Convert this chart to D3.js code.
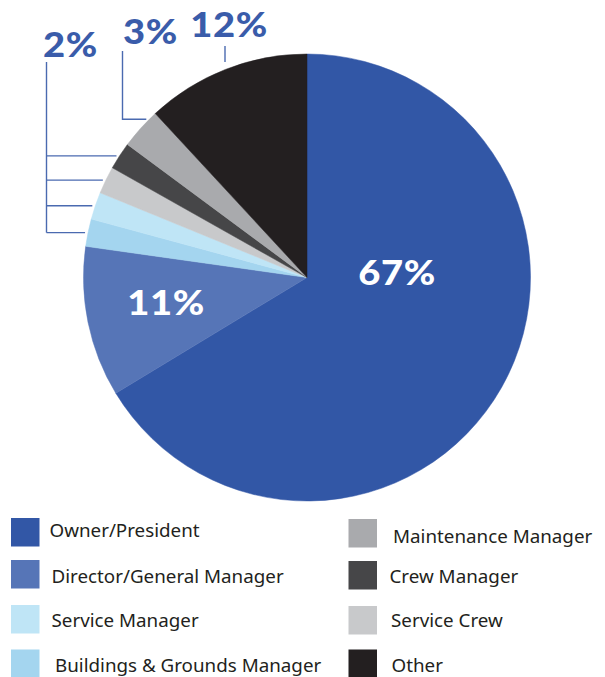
<!DOCTYPE html>
<html>
<head>
<meta charset="utf-8">
<script src="https://cdn.jsdelivr.net/npm/d3@7"></script>
<style>
  html, body { margin: 0; padding: 0; background: #ffffff; }
  svg { display: block; }
</style>
</head>
<body>
<svg id="chart" width="605" height="677"></svg>
<script>
// ---- data ----
const categories = ["Owner/President", "Director/General Manager", "Buildings & Grounds Manager",
  "Service Manager", "Service Crew", "Crew Manager", "Maintenance Manager", "Other"];
const values = [67, 11, 2, 2, 2, 2, 3, 12];
const percentLabels = ["67%", "11%", "2%", "3%", "12%"];
const colors = ["#3257a6", "#5675b7", "#a4d5ef", "#bfe5f6", "#c8c9cb", "#464648", "#a9aaad", "#231f20"];
const legendLeft = ["Owner/President", "Director/General Manager", "Service Manager", "Buildings & Grounds Manager"];
const legendRight = ["Maintenance Manager", "Crew Manager", "Service Crew", "Other"];

// ---- layout ----
const cx = 307, cy = 277.5, R = 223.5;
const labelBlue = "#3a5caa";
const lineBlue = "#4a6ab0";

const svg = d3.select("#chart");
const g = svg.append("g").attr("transform", `translate(${cx},${cy})`);

const pie = d3.pie().sort(null).value(d => d.value);
const data = pie(categories.map((c, i) => ({ name: c, value: values[i], color: colors[i] })));
const arc = d3.arc().innerRadius(0).outerRadius(R);

g.selectAll("path.slice").data(data).join("path")
  .attr("class", "slice")
  .attr("d", arc)
  .attr("fill", d => d.data.color)
  .attr("stroke", d => d.data.color)
  .attr("stroke-width", 0.5);

function edgePoint(angle, rad) { return [cx + rad * Math.sin(angle), cy - rad * Math.cos(angle)]; }

const pctFont = "Lato, 'Open Sans', sans-serif";
function pctLabel(text, x, y, fill) {
  svg.append("text")
    .attr("transform", `translate(${x},${y}) scale(1.09,1)`)
    .attr("text-anchor", "middle")
    .attr("font-family", pctFont).attr("font-weight", 900)
    .attr("font-size", 35).attr("letter-spacing", 0.6)
    .attr("fill", fill).text(text);
}
// inner labels
pctLabel(percentLabels[0], 397, 285, "#ffffff");
pctLabel(percentLabels[1], 166, 315, "#ffffff");

// outer callouts
const ann = svg.append("g").attr("fill", "none").attr("stroke", lineBlue).attr("stroke-width", 1.4);
// 2% bracket for four small slices (indices 2..5)
const x2 = 46.5, top2 = 62;
const smallIdx = [2, 3, 4, 5];
const pts = smallIdx.map(i => edgePoint((data[i].startAngle + data[i].endAngle) / 2, R));
ann.append("line").attr("x1", x2).attr("x2", x2).attr("y1", top2).attr("y2", d3.max(pts, p => p[1]));
pts.forEach(p => {
  ann.append("line").attr("x1", x2).attr("x2", p[0] - 3).attr("y1", p[1]).attr("y2", p[1]);
});
// 3% leader to Maintenance Manager
{
  const d = data[6];
  const a = d.startAngle + 0.75 * (d.endAngle - d.startAngle);
  const p = edgePoint(a, R + 2);
  ann.append("polyline").attr("points", `122.5,51 122.5,${p[1]} ${p[0]},${p[1]}`);
}
// 12% tick
ann.append("line").attr("x1", 225).attr("x2", 225).attr("y1", 46).attr("y2", 62);

pctLabel(percentLabels[2], 70.5, 57, labelBlue);
pctLabel(percentLabels[3], 150.5, 44, labelBlue);
pctLabel(percentLabels[4], 229, 37, labelBlue);

// ---- legend ----
const legFont = "'Noto Sans', 'Open Sans', sans-serif";
const colorOf = name => colors[categories.indexOf(name)];
function legendCol(items, sx, tx, tops, bases) {
  items.forEach((name, i) => {
    svg.append("rect").attr("x", sx).attr("y", tops[i]).attr("width", 28.5).attr("height", 28.5)
      .attr("fill", colorOf(name));
    svg.append("text").attr("x", tx[i]).attr("y", bases[i])
      .attr("font-family", legFont).attr("font-size", 18.8).attr("fill", "#231f20")
      .text(name);
  });
}
legendCol(legendLeft, 11, [49.5, 51.5, 51.5, 55], [518, 560, 605, 649.5], [537, 582.5, 627, 671.5]);
legendCol(legendRight, 348.5, [393, 389.5, 391, 391.5], [519, 561, 606, 649.5], [542.5, 582.5, 627, 671.5]);
</script>
</body>
</html>
